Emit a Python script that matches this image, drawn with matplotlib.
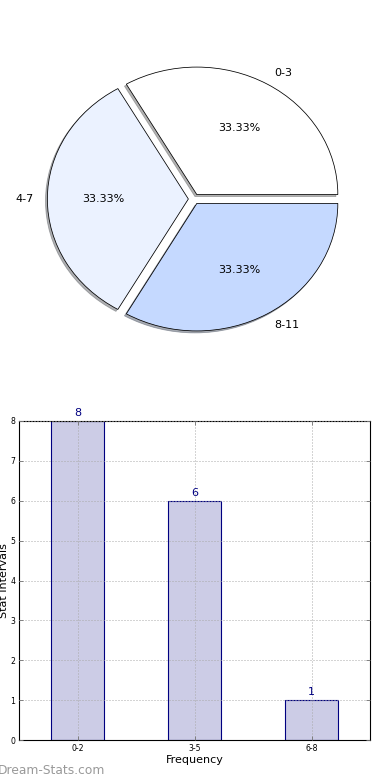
import matplotlib
matplotlib.use('Agg')
import matplotlib.pyplot as plt

# pie data
pie_labels = ['0-3', '4-7', '8-11']
pie_values = [1, 1, 1]
pie_colors = ['#FFFFFF', '#EBF2FF', '#C5D9FF']

# bar data
bar_labels = ['0-2', '3-5', '6-8']
bar_values = [8, 6, 1]

plt.rcParams['font.family'] = ['DejaVu Sans']

fig = plt.figure(figsize=(4.875, 9.75), dpi=80)

# pie on the upper half, left unequal so it comes out as an ellipse
ax1 = fig.add_axes([0, 1 - 398 / 780.0, 1, 398 / 780.0])
wedges, texts, autotexts = ax1.pie(pie_values, labels=pie_labels, colors=pie_colors,
                                   explode=[0.04, 0.04, 0.04],
                                   shadow={'ox': -0.012, 'oy': -0.014, 'shade': 0.6},
                                   autopct='%.2f%%', startangle=0, labeldistance=1.1,
                                   pctdistance=0.6,
                                   wedgeprops={'edgecolor': 'black', 'linewidth': 0.7},
                                   textprops={'fontsize': 10})
ax1.set_aspect('auto')
ax1.set_xlim(-194 / 141.0, 196 / 141.0)
ax1.set_ylim(-199 / 127.5, 199 / 127.5)
ax1.axis('off')

# bar chart on the lower half
left, right, top, bottom = 19, 370, 421, 740
ax2 = fig.add_axes([left / 390.0, 1 - bottom / 780.0, (right - left) / 390.0, (bottom - top) / 780.0])
xs = range(len(bar_values))
bars = ax2.bar(xs, bar_values, width=0.45, color='#CCCCE6', edgecolor='#000080', linewidth=1.0)
for x, v in zip(xs, bar_values):
    ax2.text(x, v + 0.08, str(v), ha='center', va='bottom', color='#000080', fontsize=10)
ax2.set_xlim(-0.5, 2.5)
ax2.set_ylim(0, 8)
ax2.set_xticks(list(xs))
ax2.set_xticklabels(bar_labels)
ax2.set_yticks(range(0, 9))
ax2.tick_params(direction='in', length=4, labelsize=7, top=True, right=True, color='#777777')
ax2.set_axisbelow(False)
ax2.grid(True, linestyle=(0, (1, 2)), color='#AAAAAA', linewidth=0.9)
ax2.set_xlabel('Frequency', fontsize=10, labelpad=2)
ax2.set_ylabel('Stat Intervals', fontsize=10, labelpad=1)
for s in ax2.spines.values():
    s.set_linewidth(1.0)

fig.text(-0.005, 1 - 771 / 780.0, 'Dream-Stats.com', color='#999999', fontsize=11,
         fontweight='medium', ha='left', va='center')

fig.savefig('out.png', dpi=80)
